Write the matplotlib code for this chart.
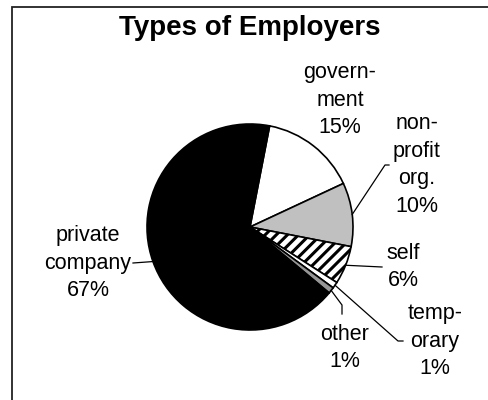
import numpy as np
import matplotlib
matplotlib.use("Agg")
import matplotlib.pyplot as plt
from matplotlib.patches import Rectangle

# data
categories = ["government", "non-profit org.", "self", "temporary", "other", "private company"]
shares = [15, 10, 6, 1, 1, 67]
label_texts = ["govern-\nment\n15%", "non-\nprofit\norg.\n10%", "self\n6%",
               "temp-\norary\n1%", "other\n1%", "private\ncompany\n67%"]
colors = ["white", "#c0c0c0", "white", "white", "#969696", "black"]
hatches = [None, None, "///", None, None, None]

W, H = 489, 400
plt.rcParams["font.family"] = ["Liberation Sans", "DejaVu Sans"]
plt.rcParams["hatch.linewidth"] = 2.2
plt.rcParams["hatch.color"] = "black"

fig = plt.figure(figsize=(W / 100, H / 100), dpi=100)
ax = fig.add_axes([0, 0, 1, 1])

# chart frame (runs off the right and bottom edges)
ax.add_patch(Rectangle((12, -20), 600, H - 7 + 20, fill=False, edgecolor="#222222", lw=1.3))

cx, cy, r = 250, H - 227, 103
wedges, _ = ax.pie(shares, colors=colors, startangle=79, counterclock=False,
                   center=(cx, cy), radius=r, frame=True,
                   wedgeprops=dict(edgecolor="black", linewidth=1.2))
for w, h in zip(wedges, hatches):
    if h:
        w.set_hatch(h)
ax.set_xlim(0, W)
ax.set_ylim(0, H)
ax.set_aspect("equal")
ax.axis("off")

ax.text(250, H - 35, "Types of Employers", ha="center", va="baseline",
        fontsize=20, fontweight="bold")

# label centres (pixels from top) and leader end points
label_pos = [(340, 100), (417, 165), (403, 267), (435, 341), (345, 348), (88, 263)]
leaders = [None, [(385, 165), (389, 165)], [(382, 267)], [(398, 341), (403, 341)],
           [(342, 305), (342, 314)], [(133, 263)]]

for w, txt, (lx, ly), lead in zip(wedges, label_texts, label_pos, leaders):
    ax.text(lx, H - ly, txt, ha="center", va="center", multialignment="center",
            fontsize=15.5, linespacing=1.4)
    if lead:
        mid = np.deg2rad((w.theta1 + w.theta2) / 2)
        ex, ey = cx + r * np.cos(mid), cy + r * np.sin(mid)
        xs = [ex] + [p[0] for p in lead]
        ys = [ey] + [H - p[1] for p in lead]
        ax.plot(xs, ys, color="black", lw=0.9)

fig.savefig("out.png", dpi=100)
